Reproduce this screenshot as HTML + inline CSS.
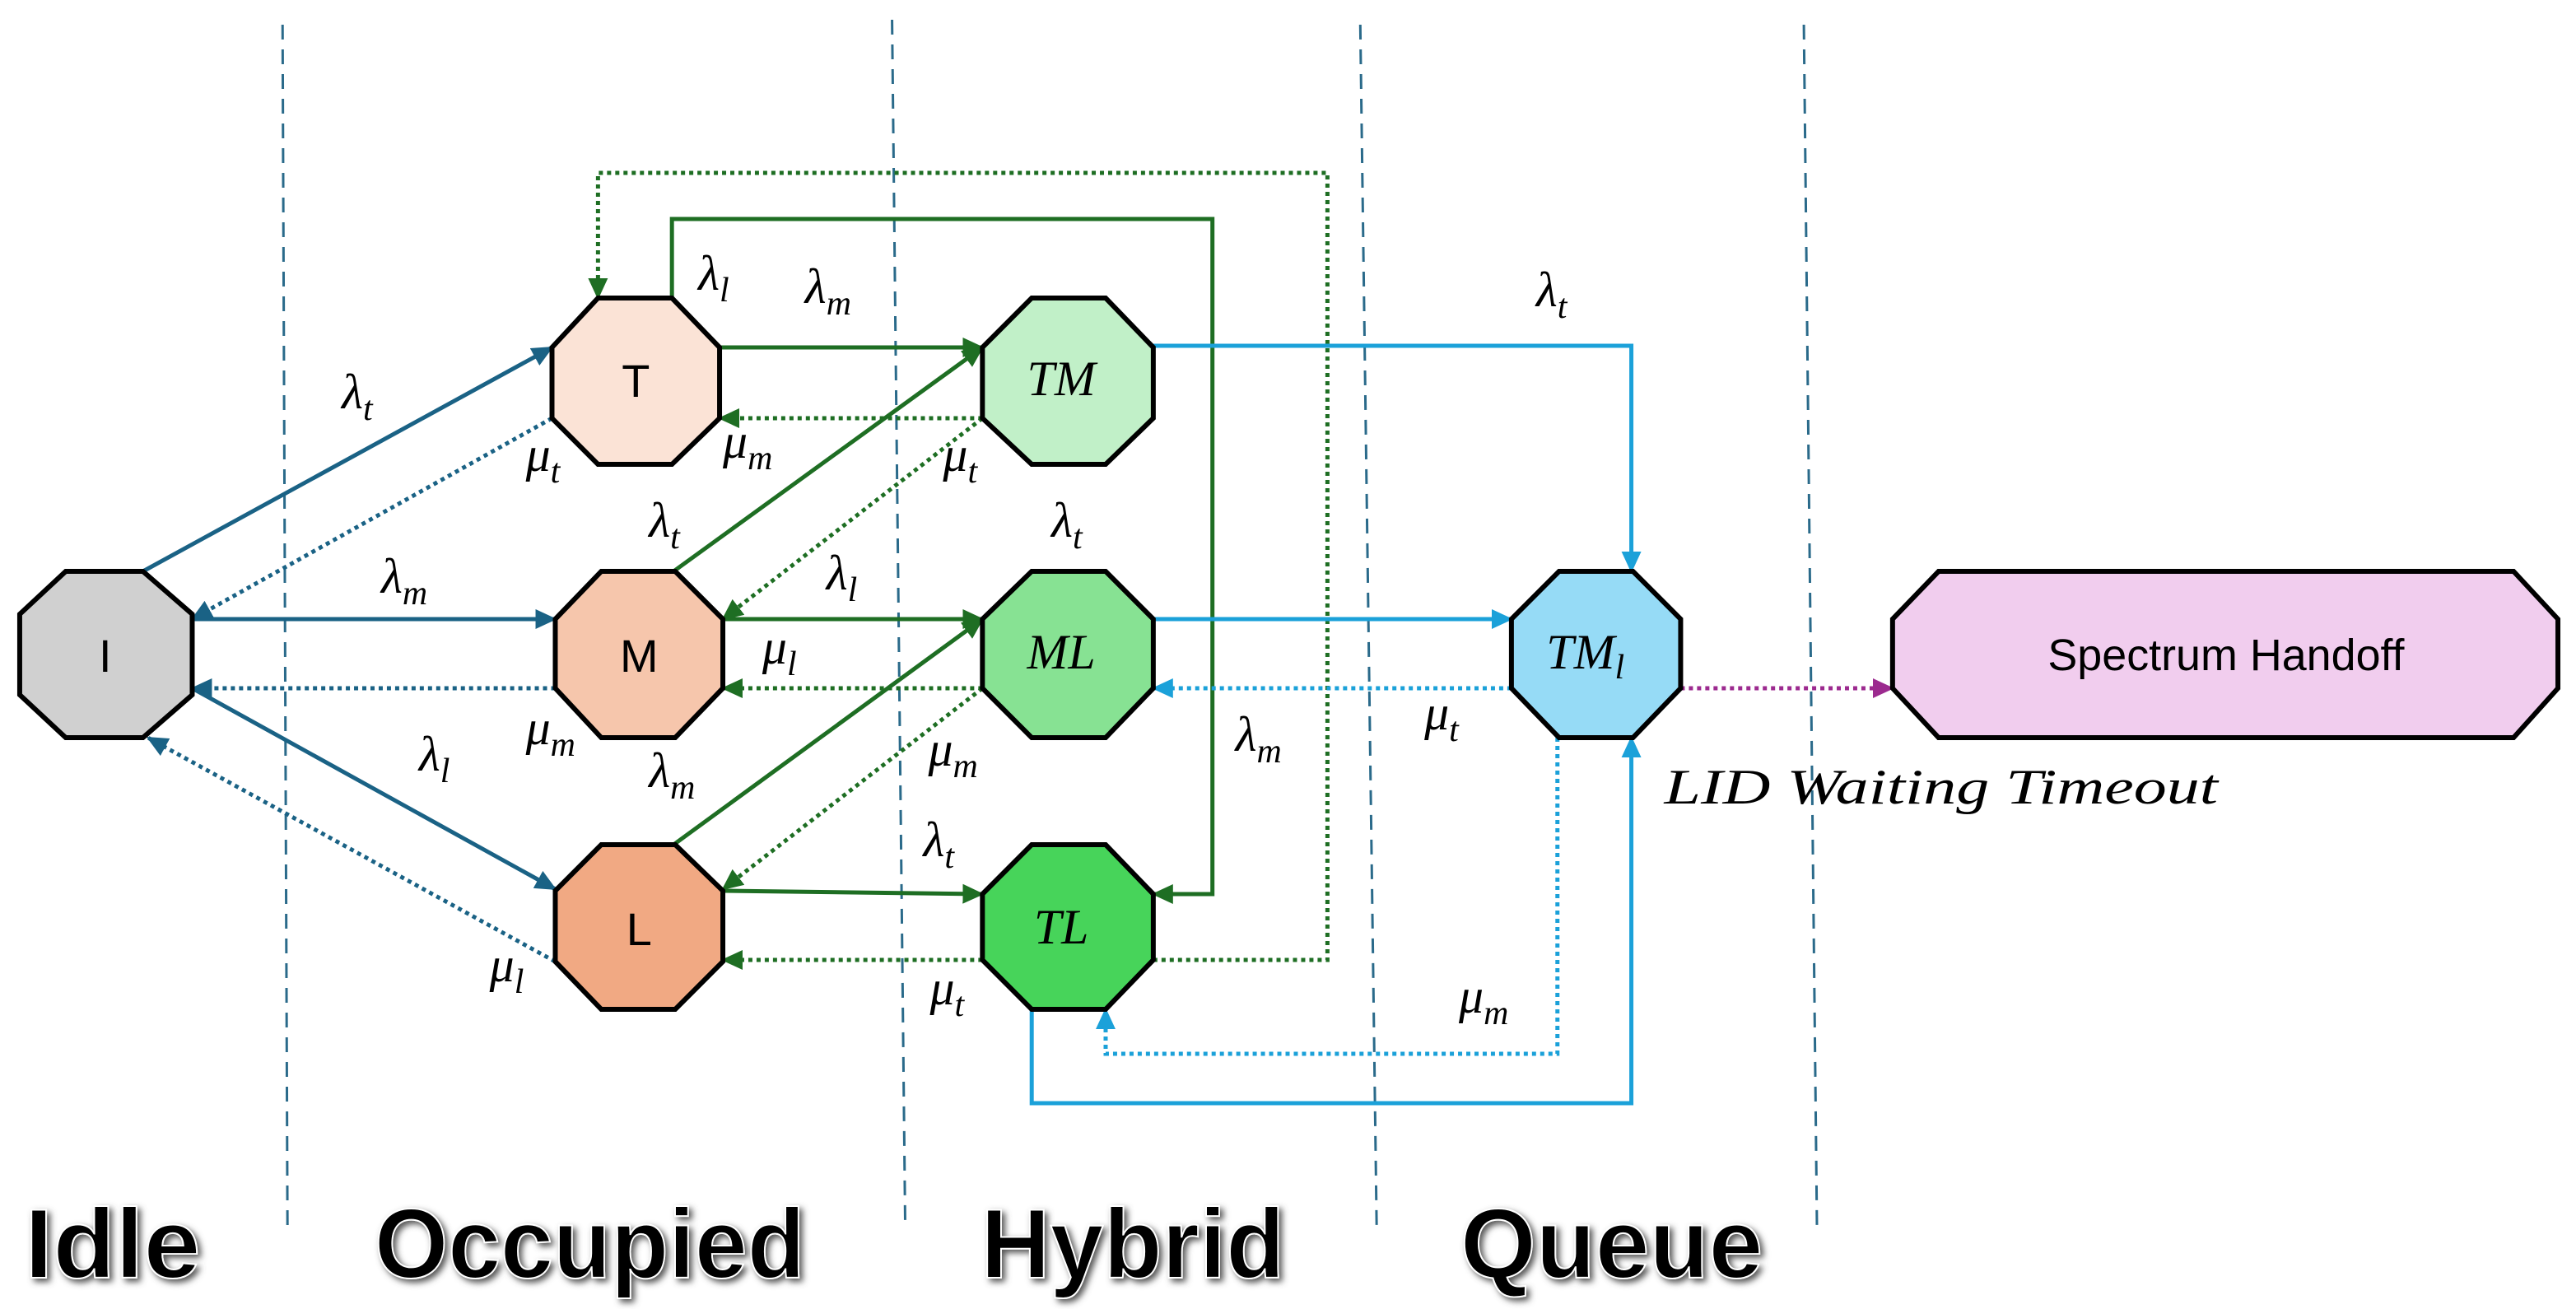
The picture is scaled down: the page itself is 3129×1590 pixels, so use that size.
<!DOCTYPE html>
<html><head><meta charset="utf-8"><style>
html,body{margin:0;padding:0;background:#fff;width:3129px;height:1590px;overflow:hidden}
svg{display:block}
.m{font-family:"Liberation Serif",serif;font-style:italic;font-size:30px;fill:#000}
.s{font-size:21px}
.sec{font-family:"Liberation Sans",sans-serif;font-weight:bold;font-size:60px;fill:#000;stroke:#fff;stroke-width:1px}
</style></head><body>
<svg width="3129" height="1590" viewBox="0 0 1568 795" preserveAspectRatio="none" xmlns="http://www.w3.org/2000/svg">
<defs>
<marker id="ab" markerUnits="userSpaceOnUse" markerWidth="14" markerHeight="12" refX="12" refY="6" orient="auto"><path d="M0,0 L13,6 L0,12 z" fill="#1a6285"/></marker>
<marker id="ag" markerUnits="userSpaceOnUse" markerWidth="14" markerHeight="12" refX="12" refY="6" orient="auto"><path d="M0,0 L13,6 L0,12 z" fill="#1e6e23"/></marker>
<marker id="ac" markerUnits="userSpaceOnUse" markerWidth="14" markerHeight="12" refX="12" refY="6" orient="auto"><path d="M0,0 L13,6 L0,12 z" fill="#1ba1d9"/></marker>
<marker id="ap" markerUnits="userSpaceOnUse" markerWidth="14" markerHeight="12" refX="12" refY="6" orient="auto"><path d="M0,0 L13,6 L0,12 z" fill="#9c2a8f"/></marker>
<filter id="sh"><feDropShadow dx="2" dy="2" stdDeviation="2" flood-color="#555"/></filter>
</defs>
<!-- dashed separators -->
<g stroke="#2a6a8a" stroke-width="1.5" stroke-dasharray="9 6">
<line x1="172" y1="15" x2="175" y2="748"/>
<line x1="543" y1="12" x2="551" y2="745"/>
<line x1="828" y1="15" x2="838" y2="748"/>
<line x1="1098" y1="15" x2="1106" y2="748"/>
</g>
<!-- blue edges -->
<g stroke="#1a6285" stroke-width="2.5" fill="none">
<line x1="87" y1="347" x2="336" y2="211" marker-end="url(#ab)"/>
<line x1="336" y1="254" x2="117" y2="376" stroke-dasharray="2.5 2.5" marker-end="url(#ab)"/>
<line x1="117" y1="376" x2="338" y2="376" marker-end="url(#ab)"/>
<line x1="338" y1="418" x2="117" y2="418" stroke-dasharray="2.5 2.5" marker-end="url(#ab)"/>
<line x1="117" y1="418" x2="338" y2="540" marker-end="url(#ab)"/>
<line x1="338" y1="584" x2="90" y2="448" stroke-dasharray="2.5 2.5" marker-end="url(#ab)"/>
</g>
<!-- green edges -->
<g stroke="#1e6e23" stroke-width="2.5" fill="none">
<line x1="438" y1="211" x2="598" y2="211" marker-end="url(#ag)"/>
<line x1="598" y1="254" x2="438" y2="254" stroke-dasharray="2.5 2.5" marker-end="url(#ag)"/>
<line x1="410" y1="347" x2="598" y2="211" marker-end="url(#ag)"/>
<line x1="598" y1="254" x2="440" y2="376" stroke-dasharray="2.5 2.5" marker-end="url(#ag)"/>
<line x1="440" y1="376" x2="598" y2="376" marker-end="url(#ag)"/>
<line x1="598" y1="418" x2="440" y2="418" stroke-dasharray="2.5 2.5" marker-end="url(#ag)"/>
<line x1="410" y1="513" x2="598" y2="376" marker-end="url(#ag)"/>
<line x1="598" y1="418" x2="440" y2="540" stroke-dasharray="2.5 2.5" marker-end="url(#ag)"/>
<line x1="440" y1="541" x2="598" y2="543" marker-end="url(#ag)"/>
<line x1="598" y1="583" x2="440" y2="583" stroke-dasharray="2.5 2.5" marker-end="url(#ag)"/>
<polyline points="409,181 409,133 738,133 738,543 702,543" marker-end="url(#ag)"/>
<polyline points="702,583 808,583 808,105 364,105 364,181" stroke-dasharray="2.5 2.5" marker-end="url(#ag)"/>
</g>
<!-- cyan edges -->
<g stroke="#1ba1d9" stroke-width="2.5" fill="none">
<polyline points="702,210 993,210 993,347" marker-end="url(#ac)"/>
<line x1="702" y1="376" x2="920" y2="376" marker-end="url(#ac)"/>
<line x1="920" y1="418" x2="702" y2="418" stroke-dasharray="2.5 2.5" marker-end="url(#ac)"/>
<polyline points="948,448 948,640 673,640 673,613" stroke-dasharray="2.5 2.5" marker-end="url(#ac)"/>
<polyline points="628,613 628,670 993,670 993,448" marker-end="url(#ac)"/>
</g>
<line x1="1023" y1="418" x2="1152" y2="418" stroke="#9c2a8f" stroke-width="2.5" stroke-dasharray="2.5 2.5" marker-end="url(#ap)"/>
<!-- nodes -->
<g stroke="#000" stroke-width="3">
<polygon points="40,347 87,347 117,373 117,422 87,448 40,448 12,422 12,373" fill="#d0d0d0"/>
<polygon points="364,181 409,181 438,211 438,254 409,282 364,282 336,254 336,211" fill="#fbe3d6"/>
<polygon points="366,347 411,347 440,376 440,418 411,448 366,448 338,418 338,376" fill="#f6c6ac"/>
<polygon points="366,513 411,513 440,541 440,584 411,613 366,613 338,584 338,541" fill="#f1a983"/>
<polygon points="628,181 673,181 702,211 702,254 673,282 628,282 598,254 598,211" fill="#c1f0c8"/>
<polygon points="628,347 673,347 702,376 702,418 673,448 628,448 598,418 598,376" fill="#87e293"/>
<polygon points="628,513 673,513 702,543 702,583 673,613 628,613 598,583 598,543" fill="#47d45a"/>
<polygon points="949,347 994,347 1023,376 1023,418 994,448 949,448 920,418 920,376" fill="#96dbf6"/>
<polygon points="1180,347 1530,347 1557,376 1557,418 1530,448 1180,448 1152,418 1152,376" fill="#f1cdee"/>
</g>
<g font-family="Liberation Sans,sans-serif" font-size="28" text-anchor="middle">
<text x="64" y="408">I</text>
<text x="387" y="241">T</text>
<text x="389" y="408">M</text>
<text x="389" y="574">L</text>
<text x="1355" y="407" font-size="27">Spectrum Handoff</text>
</g>
<g class="m" text-anchor="middle">
<text x="646" y="240">TM</text>
<text x="646" y="406">ML</text>
<text x="646" y="573">TL</text>
<text x="965" y="406">TM<tspan class="s" dy="6">l</tspan></text>
</g>
<text class="m" x="1013" y="488" textLength="337" lengthAdjust="spacingAndGlyphs">LID Waiting Timeout</text>
<!-- rate labels -->
<g class="m">
<text x="208" y="248">λ<tspan class="s" dy="7">t</tspan></text>
<text x="320" y="286">μ<tspan class="s" dy="7">t</tspan></text>
<text x="232" y="360">λ<tspan class="s" dy="7">m</tspan></text>
<text x="320" y="452">μ<tspan class="s" dy="7">m</tspan></text>
<text x="255" y="468">λ<tspan class="s" dy="7">l</tspan></text>
<text x="298" y="596">μ<tspan class="s" dy="7">l</tspan></text>
<text x="425" y="176">λ<tspan class="s" dy="7">l</tspan></text>
<text x="490" y="184">λ<tspan class="s" dy="7">m</tspan></text>
<text x="440" y="278">μ<tspan class="s" dy="7">m</tspan></text>
<text x="395" y="326">λ<tspan class="s" dy="7">t</tspan></text>
<text x="574" y="286">μ<tspan class="s" dy="7">t</tspan></text>
<text x="640" y="326">λ<tspan class="s" dy="7">t</tspan></text>
<text x="503" y="358">λ<tspan class="s" dy="7">l</tspan></text>
<text x="464" y="403">μ<tspan class="s" dy="7">l</tspan></text>
<text x="395" y="478">λ<tspan class="s" dy="7">m</tspan></text>
<text x="565" y="465">μ<tspan class="s" dy="7">m</tspan></text>
<text x="752" y="456">λ<tspan class="s" dy="7">m</tspan></text>
<text x="562" y="520">λ<tspan class="s" dy="7">t</tspan></text>
<text x="566" y="610">μ<tspan class="s" dy="7">t</tspan></text>
<text x="935" y="186">λ<tspan class="s" dy="7">t</tspan></text>
<text x="867" y="443">μ<tspan class="s" dy="7">t</tspan></text>
<text x="888" y="615">μ<tspan class="s" dy="7">m</tspan></text>
</g>
<!-- section titles -->
<g class="sec" filter="url(#sh)">
<text x="15" y="776" textLength="107" lengthAdjust="spacingAndGlyphs">Idle</text>
<text x="228" y="776" textLength="262" lengthAdjust="spacingAndGlyphs">Occupied</text>
<text x="597" y="776" textLength="185" lengthAdjust="spacingAndGlyphs">Hybrid</text>
<text x="889" y="776" textLength="184" lengthAdjust="spacingAndGlyphs">Queue</text>
</g>
</svg>
</body></html>
